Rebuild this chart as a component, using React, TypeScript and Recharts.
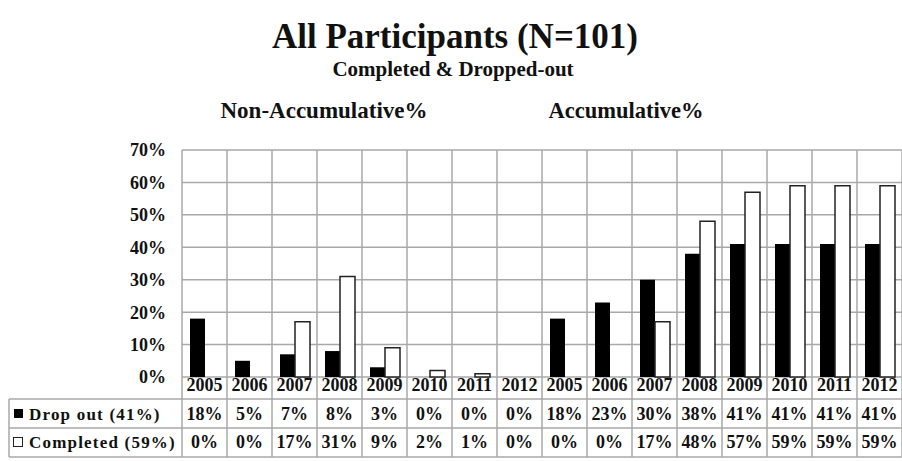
import { BarChart, Bar, XAxis, YAxis, CartesianGrid } from 'recharts';

const years = ['2005', '2006', '2007', '2008', '2009', '2010', '2011', '2012'];
const dropNonAcc = [18, 5, 7, 8, 3, 0, 0, 0];
const completedNonAcc = [0, 0, 17, 31, 9, 2, 1, 0];
const dropAcc = [18, 23, 30, 38, 41, 41, 41, 41];
const completedAcc = [0, 0, 17, 48, 57, 59, 59, 59];
const yTicks = [0, 10, 20, 30, 40, 50, 60, 70];
const dropLabel = 'Drop out (41%)';
const completedLabel = 'Completed (59%)';

const rows = [
    ...years.map((year, i) => ({ key: 'n' + year, year, drop: dropNonAcc[i], completed: completedNonAcc[i] })),
    ...years.map((year, i) => ({ key: 'a' + year, year, drop: dropAcc[i], completed: completedAcc[i] })),
];

const W = 902;
const H = 461;
const plotLeft = 182;
const plotRight = 0;
const tableTop = 377;
const band = (W - plotLeft - plotRight) / rows.length;
const rowLines = [399, 428, 457];
const font = '"Liberation Serif", "Times New Roman", "DejaVu Serif", serif';
const gridColor = '#a8a8a8';

// draws one column of the data table under the plot
function TableTick(props: any) {
    const { x, index } = props;
    const row = rows[index];
    if (!row) return null;
    const left = x - band / 2;
    const textStyle = { fontFamily: font, fontWeight: 700, fontSize: 18 };
    return (
        <g>
            <line x1={left} x2={left} y1={tableTop} y2={rowLines[2]} stroke={gridColor} strokeWidth={1.5} />
            {index === rows.length - 1 && (
                <line x1={left + band} x2={left + band} y1={tableTop} y2={rowLines[2]} stroke={gridColor} strokeWidth={1.5} />
            )}
            {index === 0 && (
                <g>
                    {rowLines.map((ly) => (
                        <line key={ly} x1={9} x2={W} y1={ly} y2={ly} stroke={gridColor} strokeWidth={1.5} />
                    ))}
                    <line x1={9} x2={9} y1={rowLines[0]} y2={rowLines[2]} stroke={gridColor} strokeWidth={1.5} />
                    <rect x={14} y={409} width={9} height={9} fill="#000" />
                    <text x={29} y={420} fill="#111" style={{ ...textStyle, fontSize: 17, letterSpacing: 1.2 }}>
                        {dropLabel}
                    </text>
                    <rect x={13.5} y={437.5} width={9} height={9} fill="#fff" stroke="#222" strokeWidth={1} />
                    <text x={29} y={448} fill="#111" style={{ ...textStyle, fontSize: 17, letterSpacing: 1.2 }}>
                        {completedLabel}
                    </text>
                </g>
            )}
            <text x={x} y={391} textAnchor="middle" fill="#111" style={textStyle}>{row.year}</text>
            <text x={x} y={420} textAnchor="middle" fill="#111" style={textStyle}>{row.drop}%</text>
            <text x={x} y={448} textAnchor="middle" fill="#111" style={textStyle}>{row.completed}%</text>
        </g>
    );
}

export default function App() {
    const titleStyle = { fontFamily: font, fontWeight: 700 };
    return (
        <div style={{ position: 'absolute', left: 0, top: 0, width: W, height: H, background: '#fff' }}>
            <BarChart
                width={W}
                height={H}
                data={rows}
                margin={{ top: 150, right: plotRight, bottom: 0, left: 0 }}
                barGap={0}
            >
                <CartesianGrid
                    stroke={gridColor}
                    strokeWidth={1.5}
                    verticalCoordinatesGenerator={({ offset }: any) =>
                        [...rows.map((_, i) => offset.left + (i * offset.width) / rows.length), offset.left + offset.width]
                    }
                />
                <XAxis
                    dataKey="key"
                    height={H - tableTop}
                    axisLine={false}
                    tickLine={false}
                    tickSize={0}
                    tickMargin={0}
                    interval={0}
                    tick={<TableTick />}
                />
                <YAxis
                    width={plotLeft}
                    domain={[0, 70]}
                    ticks={yTicks}
                    axisLine={false}
                    tickLine={false}
                    tickSize={0}
                    tickMargin={16}
                    tickFormatter={(v: number) => v + '%'}
                    tick={{ fontWeight: 700, fontSize: 18, fill: '#111', style: { fontFamily: font } }}
                />
                <Bar dataKey="drop" fill="#000" barSize={15} isAnimationActive={false} />
                <Bar dataKey="completed" fill="#fff" stroke="#222" strokeWidth={1.5} barSize={15} isAnimationActive={false} />
            </BarChart>
            <svg width={W} height={140} style={{ position: 'absolute', left: 0, top: 0, pointerEvents: 'none' }}>
                <text x={455} y={48} textAnchor="middle" fill="#111" style={{ ...titleStyle, fontSize: 35 }}>
                    All Participants (N=101)
                </text>
                <text x={453} y={76} textAnchor="middle" fill="#111" style={{ ...titleStyle, fontSize: 21 }}>
                    Completed &amp; Dropped-out
                </text>
                <text x={324} y={118} textAnchor="middle" fill="#111" style={{ ...titleStyle, fontSize: 23 }}>
                    Non-Accumulative%
                </text>
                <text x={626} y={118} textAnchor="middle" fill="#111" style={{ ...titleStyle, fontSize: 22.5 }}>
                    Accumulative%
                </text>
            </svg>
        </div>
    );
}
